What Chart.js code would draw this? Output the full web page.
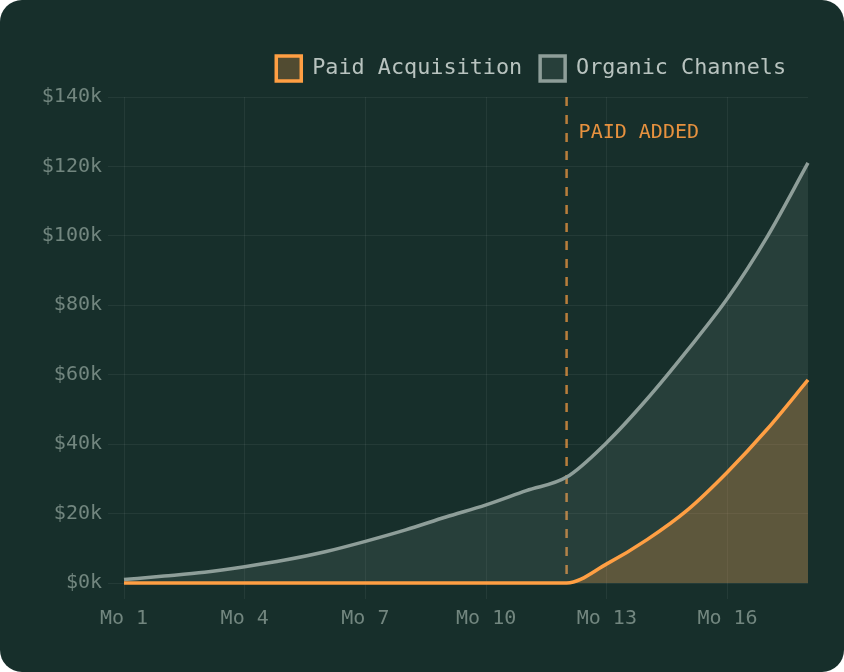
<!DOCTYPE html>
<html>
<head>
<meta charset="utf-8">
<script src="https://cdn.jsdelivr.net/npm/chart.js@4.4.1/dist/chart.umd.min.js"></script>
<style>
  html, body { margin: 0; padding: 0; background: #ffffff; }
  #wrap {
    width: 844px; height: 672px;
    background: #172f2b;
    border-radius: 22px;
    overflow: hidden;
    position: relative;
  }
  canvas { display: block; }
</style>
</head>
<body>
<div id="wrap"><canvas id="revChart" width="844" height="672"></canvas></div>
<script>
// monthly revenue, in $k
const months = ['Mo 1','Mo 2','Mo 3','Mo 4','Mo 5','Mo 6','Mo 7','Mo 8','Mo 9',
                'Mo 10','Mo 11','Mo 12','Mo 13','Mo 14','Mo 15','Mo 16','Mo 17','Mo 18'];
const organicChannels = [1, 2, 3.1, 4.7, 6.6, 9, 12, 15.3, 19, 22.5, 26.6, 30.5, 40.5, 53, 67, 82, 100, 121];
const paidAcquisition = [0, 0, 0, 0, 0, 0, 0, 0, 0, 0, 0, 0, 5.5, 12.5, 21, 32, 44.5, 58.5];
const yTicks = [0, 20, 40, 60, 80, 100, 120, 140];
const markerIndex = 11; // Mo 12
const markerText = 'PAID ADDED';

const mono = "'DejaVu Sans Mono', monospace";
const orange = '#ff9f43';
const gray = '#8e9e99';

// dashed "paid added" line + label
const markerPlugin = {
    id: 'marker',
    beforeLayout(chart) {
        // tweak legend box: a bit more room below it, row pulled a little left
        const lg = chart.legend;
        if (lg && !lg._patched) {
            const fit = lg.fit.bind(lg);
            lg.fit = function () {
                fit();
                this.height += 6;
                if (this.lineWidths) this.lineWidths = this.lineWidths.map(w => w + 4);
            };
            lg._patched = true;
        }
    },
    beforeDatasetsDraw(chart) {
        const ctx = chart.ctx;
        const x = chart.scales.x.getPixelForValue(markerIndex);
        const area = chart.chartArea;
        ctx.save();
        ctx.strokeStyle = 'rgba(255,159,67,0.7)';
        ctx.lineWidth = 2.5;
        ctx.setLineDash([9, 9]);
        ctx.beginPath();
        ctx.moveTo(x, area.top);
        ctx.lineTo(x, area.bottom);
        ctx.stroke();
        ctx.setLineDash([]);
        ctx.fillStyle = '#e8923f';
        ctx.font = '20px ' + mono;
        ctx.textBaseline = 'middle';
        ctx.textAlign = 'left';
        ctx.fillText(markerText, x + 12, area.top + 36);
        ctx.restore();
    }
};

document.addEventListener("DOMContentLoaded", function () {
    const ctx = document.getElementById('revChart').getContext('2d');
    new Chart(ctx, {
        type: 'line',
        data: {
            labels: months,
            datasets: [
                {
                    label: 'Paid Acquisition',
                    data: paidAcquisition,
                    borderColor: orange,
                    backgroundColor: 'rgba(255,159,67,0.25)',
                    borderWidth: 3.5,
                    fill: 'origin',
                    pointRadius: 0,
                    clip: false,
                    cubicInterpolationMode: 'monotone'
                },
                {
                    label: 'Organic Channels',
                    data: organicChannels,
                    borderColor: gray,
                    backgroundColor: 'rgba(143,160,155,0.14)',
                    borderWidth: 3.5,
                    fill: 'origin',
                    pointRadius: 0,
                    clip: false,
                    cubicInterpolationMode: 'monotone'
                }
            ]
        },
        options: {
            responsive: false,
            animation: false,
            layout: { padding: { top: 38, right: 36, bottom: 0, left: 0 } },
            plugins: {
                legend: {
                    position: 'top',
                    align: 'end',
                    labels: {
                        color: '#b8c3bf',
                        font: { family: mono, size: 21.8 },
                        boxWidth: 25,
                        boxHeight: 25,
                        padding: 18
                    }
                },
                tooltip: { enabled: false }
            },
            scales: {
                x: {
                    grid: { color: 'rgba(255,255,255,0.06)', tickLength: 16 },
                    border: { display: false },
                    ticks: {
                        color: '#72867f',
                        font: { family: mono, size: 20 },
                        autoSkip: true,
                        maxTicksLimit: 6,
                        maxRotation: 0,
                        padding: 8
                    },
                    afterFit(scale) { scale.height = 89; }
                },
                y: {
                    min: 0,
                    max: 140,
                    afterBuildTicks(scale) { scale.ticks = yTicks.map(v => ({ value: v })); },
                    grid: { color: 'rgba(255,255,255,0.06)', tickLength: 16 },
                    border: { display: false },
                    ticks: {
                        color: '#72867f',
                        font: { family: mono, size: 20 },
                        padding: 6,
                        callback: v => '$' + v + 'k'
                    },
                    afterFit(scale) { scale.width = 124; }
                }
            }
        },
        plugins: [markerPlugin]
    });
});
</script>
</body>
</html>
